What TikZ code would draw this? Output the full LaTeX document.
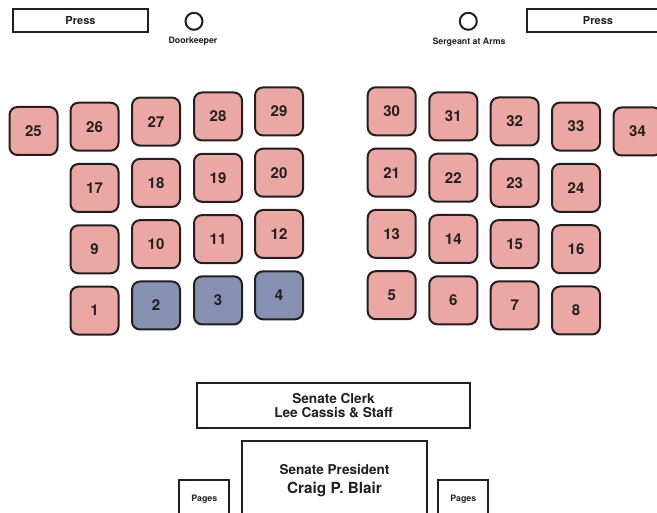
\documentclass[tikz,border=0pt]{standalone}
\usepackage{fontspec}
\setmainfont{TeX Gyre Heros}
\definecolor{ink}{HTML}{231F20}
\definecolor{seatpink}{HTML}{EBA7A4}
\definecolor{seatblue}{HTML}{8691B2}
\tikzset{
  seat/.style={draw=ink, line width=2pt, fill=seatpink, rounded corners=8pt,
    minimum width=48pt, minimum height=48pt, inner sep=0pt, text=ink,
    font=\bfseries\fontsize{15}{18}\selectfont},
  blueseat/.style={seat, fill=seatblue},
  plainbox/.style={draw=ink, line width=2pt, fill=white, inner sep=0pt},
  lbl/.style={text=ink, inner sep=0pt, align=center},
}
\begin{document}
\begin{tikzpicture}[x=1pt, y=-1pt]
\useasboundingbox (0,0) rectangle (657,513);
\clip (0,0) rectangle (657,513);
% top
\node[plainbox, minimum width=135pt, minimum height=23pt, font=\bfseries\fontsize{11}{13}\selectfont, text=ink] (pressL) at (80.5,20.5) {Press};
\node[plainbox, minimum width=142pt, minimum height=23pt, font=\bfseries\fontsize{11}{13}\selectfont, text=ink] (pressR) at (598,20.5) {Press};
\node[draw=ink, line width=2pt, circle, minimum size=17pt, inner sep=0pt] (door) at (194,21.3) {};
\node[lbl, font=\bfseries\fontsize{8.8}{10}\selectfont] (doorlbl) at (193,41.5) {Doorkeeper};
\node[draw=ink, line width=2pt, circle, minimum size=17pt, inner sep=0pt] (serg) at (468.3,21.3) {};
\node[lbl, font=\bfseries\fontsize{8.8}{10}\selectfont] (serglbl) at (469,42) {Sergeant at Arms};
% left block
\foreach \i/\x in {0/94.5,1/156,2/218,3/279}{
  \foreach \r/\base in {0/26,1/17,2/9,3/1}{
    \pgfmathtruncatemacro{\n}{\base+\i}
    \pgfmathsetmacro{\yy}{126.7-5.1*\i+61.3*\r}
    \ifnum\n>1 \ifnum\n<5
      \node[blueseat] (s\n) at (\x,\yy) {\n};
    \else
      \node[seat] (s\n) at (\x,\yy) {\n};
    \fi\else
      \node[seat] (s\n) at (\x,\yy) {\n};
    \fi
  }
}
\node[seat] (s25) at (33.5,131) {25};
% right block
\foreach \j/\x in {0/391.7,1/453.3,2/514.7,3/576}{
  \foreach \r/\base in {0/30,1/21,2/13,3/5}{
    \pgfmathtruncatemacro{\n}{\base+\j}
    \pgfmathsetmacro{\yy}{111.3+5.1*\j+61.3*\r}
    \node[seat] (s\n) at (\x,\yy) {\n};
  }
}
\node[seat] (s34) at (637.5,131.5) {34};
% bottom
\node[plainbox, minimum width=273pt, minimum height=45pt] (clerk) at (333.5,405.5) {};
\node[lbl, font=\bfseries\fontsize{13.6}{14}\selectfont] (clerklbl) at (clerk.center) {Senate Clerk\\Lee Cassis \& Staff};
\node[plainbox, minimum width=185pt, minimum height=130pt] (pres) at (334.5,506) {};
\node[lbl, font=\bfseries\fontsize{13.5}{16}\selectfont] (preslbl1) at (334.5,470) {Senate President};
\node[lbl, font=\bfseries\fontsize{15.3}{18}\selectfont] (preslbl2) at (334.5,489) {Craig P. Blair};
\node[plainbox, minimum width=50pt, minimum height=80pt] (pagesL) at (204.3,520) {};
\node[lbl, font=\bfseries\fontsize{8.8}{10}\selectfont] (pagesLlbl) at (204.3,499) {Pages};
\node[plainbox, minimum width=50pt, minimum height=80pt] (pagesR) at (463.3,520) {};
\node[lbl, font=\bfseries\fontsize{8.8}{10}\selectfont] (pagesRlbl) at (463.3,499) {Pages};
\end{tikzpicture}
\end{document}
